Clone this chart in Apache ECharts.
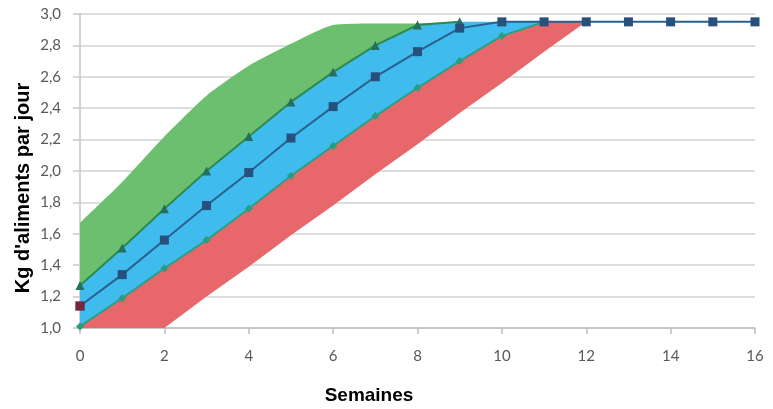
<!DOCTYPE html>
<html>
<head>
<meta charset="utf-8">
<script src="https://cdn.jsdelivr.net/npm/echarts@6/dist/echarts.min.js"></script>
<style>
html,body{margin:0;padding:0;background:#fff;}
#chart{width:773px;height:409px;}
</style>
</head>
<body>
<div id="chart"></div>
<script>
// Weeks (x categories)
const weeks = ['0','1','2','3','4','5','6','7','8','9','10','11','12','13','14','15','16'];
// Upper edge of the green band
const greenTop   = [1.67,1.93,2.22,2.48,2.67,2.81,2.93,2.94,2.94,2.95,2.95,2.95,2.95,2.95,2.95,2.95,2.95];
// Upper curve (triangles)
const upperLine  = [1.27,1.51,1.76,2.00,2.22,2.44,2.63,2.80,2.93,2.95,2.95,2.95,2.95,2.95,2.95,2.95,2.95];
// Middle curve (squares)
const middleLine = [1.14,1.34,1.56,1.78,1.99,2.21,2.41,2.60,2.76,2.91,2.95,2.95,2.95,2.95,2.95,2.95,2.95];
// Lower curve (diamonds)
const lowerLine  = [1.01,1.19,1.38,1.56,1.76,1.97,2.16,2.35,2.53,2.70,2.86,2.95,2.95,2.95,2.95,2.95,2.95];
// Lower edge of the red band
const redBottom  = [1.00,1.00,1.00,1.20,1.39,1.59,1.78,1.98,2.17,2.37,2.56,2.76,2.95,2.95,2.95,2.95,2.95];
// Visible extent of each curve (last week index drawn)
const upperEnd = 9, lowerEnd = 11;
// Start-point marker (week index, value)
const startMarker = [['0', 1.14]];
const yTicks = {min: 1.0, max: 3.0, step: 0.2};

const upto = (arr, end) => arr.map((v, i) => (i <= end ? v : null));
const diff = (a, b) => a.map((v, i) => +(v - b[i]).toFixed(3));

const chart = echarts.init(document.getElementById('chart'), null, {renderer: 'canvas'});

const tickFont = 'Lato, "Open Sans", sans-serif';
const titleFont = '"Liberation Sans", Arial, sans-serif';

chart.setOption({
  animation: false,
  backgroundColor: '#ffffff',
  grid: {left: 80, right: 18, top: 14, bottom: 81},
  xAxis: {
    type: 'category', data: weeks, boundaryGap: false,
    axisLine: {lineStyle: {color: '#bdbdbd', width: 1.5}},
    axisTick: {show: true, length: 6, interval: 1, lineStyle: {color: '#bdbdbd', width: 1.5}},
    axisLabel: {color: '#595959', fontSize: 15, fontFamily: tickFont, margin: 21, interval: 1},
    splitLine: {show: false}
  },
  yAxis: {
    type: 'value', min: yTicks.min, max: yTicks.max, interval: yTicks.step,
    axisLine: {show: true, lineStyle: {color: '#c4c4c4', width: 1.5}},
    axisTick: {show: true, length: 7, lineStyle: {color: '#c8c8c8', width: 1.5}},
    axisLabel: {color: '#595959', fontSize: 15, fontFamily: tickFont, margin: 19,
      formatter: v => v.toFixed(1).replace('.', ',')},
    splitLine: {show: true, lineStyle: {color: '#d3d3d3', width: 1.5}}
  },
  graphic: [
    {type: 'text', x: 23, y: 188, rotation: Math.PI / 2,
     style: {text: "Kg d'aliments par jour", font: 'bold 20px ' + titleFont, fill: '#000',
       textAlign: 'center', textVerticalAlign: 'middle'}},
    {type: 'text', x: 369, y: 396,
     style: {text: 'Semaines', font: 'bold 19px ' + titleFont, fill: '#000',
       textAlign: 'center', textVerticalAlign: 'middle'}}
  ],
  series: [
    {name: 'base', type: 'line', stack: 'band', data: redBottom,
     symbol: 'none', lineStyle: {width: 0, opacity: 0}, z: 1, silent: true},
    {name: 'red', type: 'line', stack: 'band', data: diff(lowerLine, redBottom),
     symbol: 'none', lineStyle: {width: 0, opacity: 0}, areaStyle: {color: '#e8676a', opacity: 1}, z: 1},
    {name: 'blue', type: 'line', stack: 'band', data: diff(upperLine, lowerLine),
     symbol: 'none', lineStyle: {width: 0, opacity: 0}, areaStyle: {color: '#40bbee', opacity: 1}, z: 1},
    {name: 'green', type: 'line', stack: 'band', data: diff(greenTop, upperLine), smooth: 0.2,
     symbol: 'none', lineStyle: {width: 0, opacity: 0}, areaStyle: {color: '#6dbf70', opacity: 1}, z: 1},
    {name: 'lower', type: 'line', data: upto(lowerLine, lowerEnd),
     symbol: 'diamond', symbolSize: 8, itemStyle: {color: '#2a9d7e'},
     lineStyle: {color: '#2aa088', width: 2}, z: 3},
    {name: 'upper', type: 'line', data: upto(upperLine, upperEnd),
     symbol: 'triangle', symbolSize: 9, itemStyle: {color: '#256f5e'},
     lineStyle: {color: '#2d8a48', width: 2}, z: 4},
    {name: 'middle', type: 'line', data: middleLine,
     symbol: 'rect', symbolSize: 9, itemStyle: {color: '#27507c'},
     lineStyle: {color: '#28618f', width: 2}, z: 5},
    {name: 'start', type: 'scatter', data: startMarker,
     symbol: 'rect', symbolSize: 9, itemStyle: {color: '#8a1c2c'}, z: 6}
  ]
});
</script>
</body>
</html>
